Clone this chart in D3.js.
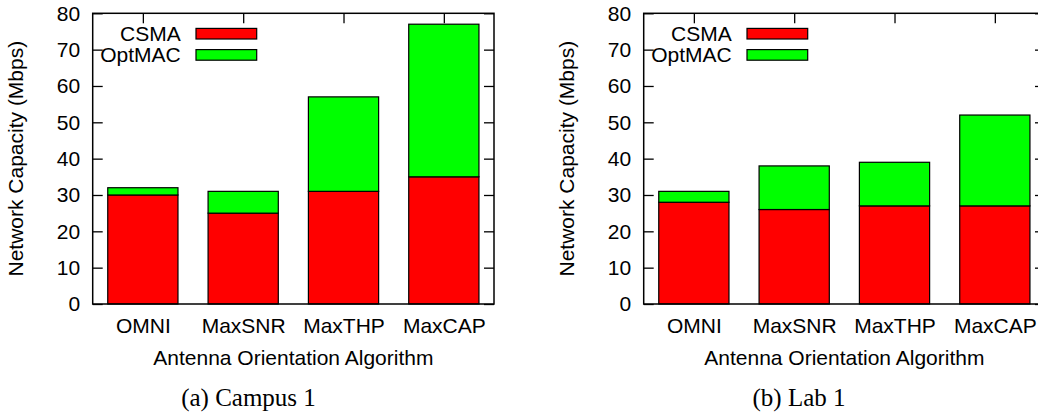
<!DOCTYPE html>
<html>
<head>
<meta charset="utf-8">
<script src="https://cdn.jsdelivr.net/npm/d3@7"></script>
<style>
  html, body { margin: 0; padding: 0; background: #fff; }
  svg { display: block; }
</style>
</head>
<body>
<div id="chart"></div>
<script>
// Categories and values
const algorithms = ["OMNI", "MaxSNR", "MaxTHP", "MaxCAP"];
const seriesNames = ["CSMA", "OptMAC"];
const yTicks = [0, 10, 20, 30, 40, 50, 60, 70, 80];

// (a) Campus 1 - CSMA base and OptMAC extra on top
const campusCSMA = [30, 25, 31, 35];
const campusOptMAC = [2, 6, 26, 42];

// (b) Lab 1
const labCSMA = [28, 26, 27, 27];
const labOptMAC = [3, 12, 12, 25];

const colors = { CSMA: "#ff0000", OptMAC: "#00ff00" };

const W = 1038, H = 413;
const sans = "'Liberation Sans', Arial, Helvetica, sans-serif";
const serif = "'Liberation Serif', 'Times New Roman', serif";

const svg = d3.select("#chart").append("svg")
    .attr("width", W)
    .attr("height", H);

function drawPanel(opts) {
    const { left, csma, optmac, caption, captionX } = opts;
    const frameW = 401.3;
    const top = 13.3, bottom = 304;

    const g = svg.append("g");

    // x: category index, gnuplot-style range -0.5 .. 3.5
    const x = d3.scaleLinear()
        .domain([-0.5, algorithms.length - 0.5])
        .range([left, left + frameW]);

    const y = d3.scaleLinear()
        .domain([0, 80])
        .range([bottom, top]);

    const barW = x(0.7) - x(0);

    const stacked = algorithms.map((name, i) => ({
        name, i,
        csma: csma[i],
        total: csma[i] + optmac[i]
    }));

    // y ticks on the left (inward) with labels
    g.append("g")
        .attr("transform", `translate(${left},0)`)
        .call(d3.axisLeft(y).tickValues(yTicks).tickSizeInner(-10).tickSizeOuter(0).tickPadding(12.5))
        .call(a => a.select(".domain").remove())
        .call(a => a.selectAll("line").attr("stroke", "#000").attr("stroke-width", 1.3))
        .call(a => a.selectAll("text")
            .attr("fill", "#000")
            .style("font-family", sans)
            .style("font-size", "21px"));

    // mirrored y ticks on the right
    g.append("g")
        .attr("transform", `translate(${left + frameW},0)`)
        .call(d3.axisRight(y).tickValues(yTicks).tickSizeInner(-10).tickSizeOuter(0).tickFormat(""))
        .call(a => a.select(".domain").remove())
        .call(a => a.selectAll("line").attr("stroke", "#000").attr("stroke-width", 1.3));

    // mirrored x ticks on top
    g.append("g")
        .attr("transform", `translate(0,${top})`)
        .call(d3.axisTop(x).tickValues(d3.range(algorithms.length)).tickSizeInner(-10).tickSizeOuter(0).tickFormat(""))
        .call(a => a.select(".domain").remove())
        .call(a => a.selectAll("line").attr("stroke", "#000").attr("stroke-width", 1.3));

    // x tick labels at the bottom
    g.append("g")
        .attr("transform", `translate(0,${bottom})`)
        .call(d3.axisBottom(x).tickValues(d3.range(algorithms.length))
            .tickFormat(i => algorithms[i]).tickSizeInner(0).tickSizeOuter(0).tickPadding(14.5))
        .call(a => a.select(".domain").remove())
        .call(a => a.selectAll("text")
            .attr("fill", "#000")
            .style("font-family", sans)
            .style("font-size", "21px"));

    // bars: CSMA base
    g.selectAll(".csma")
        .data(stacked)
        .enter().append("rect")
        .attr("class", "csma")
        .attr("x", d => x(d.i) - barW / 2)
        .attr("width", barW)
        .attr("y", d => y(d.csma))
        .attr("height", d => y(0) - y(d.csma))
        .attr("fill", colors.CSMA)
        .attr("stroke", "#000")
        .attr("stroke-width", 1.2);

    // bars: OptMAC on top
    g.selectAll(".optmac")
        .data(stacked)
        .enter().append("rect")
        .attr("class", "optmac")
        .attr("x", d => x(d.i) - barW / 2)
        .attr("width", barW)
        .attr("y", d => y(d.total))
        .attr("height", d => y(d.csma) - y(d.total))
        .attr("fill", colors.OptMAC)
        .attr("stroke", "#000")
        .attr("stroke-width", 1.2);

    // frame
    g.append("rect")
        .attr("x", left)
        .attr("y", top)
        .attr("width", frameW)
        .attr("height", bottom - top)
        .attr("fill", "none")
        .attr("stroke", "#000")
        .attr("stroke-width", 1.5);

    // legend
    seriesNames.forEach((s, k) => {
        const cy = 33.7 + k * 21.2;
        g.append("text")
            .attr("x", left + 88)
            .attr("y", cy + 7)
            .attr("text-anchor", "end")
            .style("font-family", sans)
            .style("font-size", "21px")
            .text(s);
        g.append("rect")
            .attr("x", left + 103.3)
            .attr("y", cy - 5.3)
            .attr("width", 60.7)
            .attr("height", 10.6)
            .attr("fill", colors[s])
            .attr("stroke", "#000")
            .attr("stroke-width", 1.2);
    });

    // axis titles
    g.append("text")
        .attr("transform", `translate(${left - 69.5},${(top + bottom) / 2}) rotate(-90)`)
        .attr("text-anchor", "middle")
        .style("font-family", sans)
        .style("font-size", "21px")
        .text("Network Capacity (Mbps)");

    g.append("text")
        .attr("x", left + frameW / 2)
        .attr("y", 365)
        .attr("text-anchor", "middle")
        .style("font-family", sans)
        .style("font-size", "21px")
        .text("Antenna Orientation Algorithm");

    // caption
    g.append("text")
        .attr("x", captionX)
        .attr("y", 406)
        .attr("text-anchor", "middle")
        .style("font-family", serif)
        .style("font-size", "25px")
        .text(caption);
}

drawPanel({ left: 92.7, csma: campusCSMA, optmac: campusOptMAC, caption: "(a) Campus 1", captionX: 248.5 });
drawPanel({ left: 643.7, csma: labCSMA, optmac: labOptMAC, caption: "(b) Lab 1", captionX: 799 });
</script>
</body>
</html>
